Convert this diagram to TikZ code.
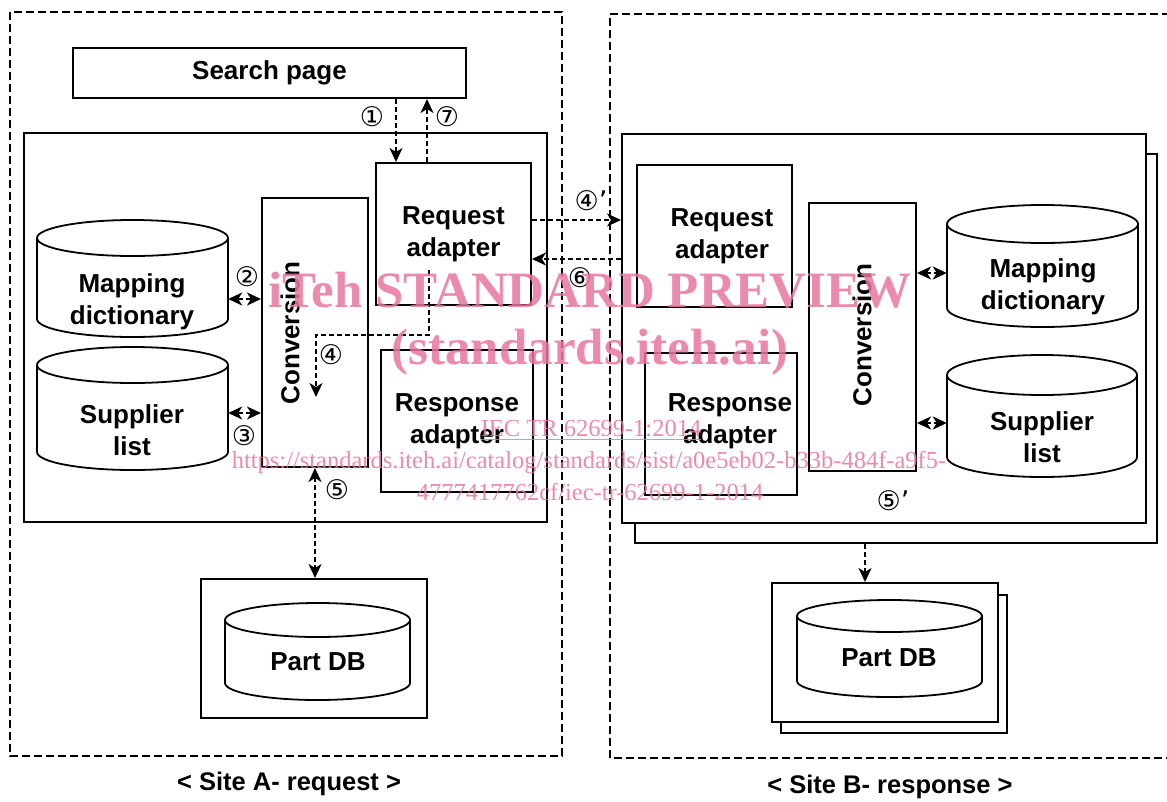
\documentclass[tikz,border=0pt]{standalone}
\usepackage{fontspec}
\setmainfont{Liberation Sans}
\newfontfamily\circfont{DejaVu Sans}
\newfontfamily\wmfont{Liberation Serif}
\usetikzlibrary{arrows.meta,calc}
\definecolor{wmpink}{RGB}{232,118,158}

% rectangle node given by its corners: name, x1, y1, x2, y2, text
\newcommand\boxnode[6]{%
  \node[box, minimum width={#4-#2}, minimum height={#5-#3}] (#1)
    at ({(#2+#4)/2},{(#3+#5)/2}) {#6};}
% drum shaped store: name, x1, ytop, x2, ybot, vertical radius of the rims
\newcommand\drum[6]{%
  \node[inner sep=0pt, minimum width={#4-#2}, minimum height={#5-#3}] (#1)
    at ({(#2+#4)/2},{(#3+#5)/2}) {};
  \draw[drumline, fill=white] (#2,{#3+#6}) -- (#2,{#5-#6})
    arc[start angle=180, end angle=0, x radius={(#4-#2)/2}, y radius=#6]
    -- (#4,{#3+#6});
  \draw[drumline] ({(#2+#4)/2},{#3+#6}) ellipse [x radius={(#4-#2)/2}, y radius=#6];}

\begin{document}
\begin{tikzpicture}[x=1pt, y=-1pt,
  box/.style={draw, line width=2pt, fill=white, inner sep=0pt, align=center,
    font=\bfseries\fontsize{26}{32}\selectfont},
  drumline/.style={line width=1.8pt},
  lbl/.style={align=center, inner sep=0pt, font=\bfseries\fontsize{26}{32}\selectfont},
  sitebox/.style={line width=2pt, dash pattern=on 8pt off 4pt},
  tip/.tip={Stealth[length=14pt, width=13pt, inset=4pt]},
  arr/.style={line width=1.8pt, dash pattern=on 5pt off 3pt, -tip},
  dbl/.style={line width=1.8pt, dash pattern=on 5pt off 3pt, tip-tip},
  num/.style={inner sep=0pt, font=\circfont\fontsize{27}{27}\selectfont},
  sitelbl/.style={inner sep=0pt, font=\bfseries\fontsize{25.5}{26}\selectfont},
  wm/.style={inner sep=0pt, text=wmpink, text opacity=0.85, align=center},
  wmbig/.style={wm, font=\wmfont\bfseries\fontsize{51}{51}\selectfont},
  wmsmall/.style={wm, font=\wmfont\fontsize{24.5}{25}\selectfont}
]
\useasboundingbox (0,0) rectangle (1167,801);

% ---------- site frames ----------
\draw[sitebox] (10,12) rectangle (562,756);
\draw[sitebox] (1170,14) -- (610,14) -- (610,758) -- (1170,758);

% ---------- site A ----------
\boxnode{search}{73}{48}{466}{98}{Search page}
\boxnode{hostA}{24}{133}{547}{522}{}
\boxnode{reqA}{376}{163}{531}{305}{Request\\adapter}
\boxnode{convA}{262}{198}{368}{467}{}
\node[lbl, rotate=90] (convAtxt) at (290,333) {Conversion};
\boxnode{respA}{381}{350}{533}{492}{Response\\adapter}
\drum{mapA}{37}{220}{228}{337}{18}
\node[lbl] (mapAtxt) at (132,302) {Mapping\\dictionary};
\drum{supA}{37}{347}{228}{470}{18}
\node[lbl] (supAtxt) at (132,430) {Supplier\\list};
\boxnode{dbboxA}{201}{579}{427}{718}{}
\drum{dbA}{225}{603}{410}{700}{17}
\node[lbl] (dbAtxt) at (318,662) {Part DB};

% ---------- site B ----------
\boxnode{hostBback}{635}{154}{1157}{543}{}
\boxnode{hostB}{622}{134}{1146}{523}{}
\boxnode{reqB}{637}{165}{792}{307}{}
\node[lbl] (reqBtxt) at (722,236) {Request\\adapter};
\boxnode{convB}{809}{203}{916}{471}{}
\node[lbl, rotate=90] (convBtxt) at (862,335) {Conversion};
\boxnode{respB}{645}{353}{797}{495}{}
\node[lbl] (respBtxt) at (730,421) {Response\\adapter};
\drum{mapB}{947}{205}{1138}{327}{19}
\node[lbl] (mapBtxt) at (1043,287) {Mapping\\dictionary};
\drum{supB}{947}{355}{1137}{477}{20}
\node[lbl] (supBtxt) at (1042,437) {Supplier\\list};
\boxnode{dbboxBback}{781}{595}{1007}{733}{}
\boxnode{dbboxB}{772}{583}{998}{722}{}
\drum{dbB}{797}{600}{982}{697}{16}
\node[lbl] (dbBtxt) at (889,658) {Part DB};

% ---------- message flow ----------
\draw[arr] (396,0 |- search.south) -- (396,0 |- reqA.north);
\draw[arr] (427,0 |- reqA.north) -- (427,0 |- search.south);
\coordinate (d4start) at (429,270);
\coordinate (d4end) at (316,397);
\draw[arr] (d4start) -- (429,335) -- (316,335) -- (d4end);
\draw[arr] (reqA.east |- 0,220) -- (hostB.west |- 0,220);
\draw[arr] (hostB.west |- 0,259) -- (reqA.east |- 0,259);
\draw[dbl] (mapA.east |- 0,299) -- (convA.west |- 0,299);
\draw[dbl] (supA.east |- 0,413) -- (convA.west |- 0,413);
\draw[dbl] (convA.south -| 315,0) -- (dbboxA.north -| 315,0);
\draw[dbl] (convB.east |- 0,273) -- (mapB.west |- 0,273);
\draw[dbl] (convB.east |- 0,423) -- (supB.west |- 0,423);
\draw[arr] (hostBback.south -| 865,0) -- (dbboxB.north -| 865,0);

% ---------- step numbers ----------
\node[num] (n1) at (372,117) {①};
\node[num] (n7) at (447,117) {⑦};
\node[num] (n2) at (247,277) {②};
\node[num] (n3) at (244,436) {③};
\node[num] (n4) at (331,355) {④};
\node[num] (n5) at (337,490) {⑤};
\node[num] (n4p) at (591,201) {④’};
\node[num] (n6) at (580,278) {⑥};
\node[num] (n5p) at (893,501) {⑤’};

% ---------- captions ----------
\node[sitelbl] (capA) at (289,784) {< Site A- request >};
\node[sitelbl] (capB) at (890,787) {< Site B- response >};

% ---------- overprinted notice ----------
\node[wmbig] (wm1) at (590,290) {iTeh STANDARD PREVIEW};
\node[wmbig] (wm2) at (590,352) {(standards.iteh.ai)};
\node[wmsmall] (wm3) at (591,430) {\underline{IEC TR 62699-1:2014}};
\node[wmsmall] (wm4) at (589,463) {https://standards.iteh.ai/catalog/standards/sist/a0e5eb02-b33b-484f-a9f5-};
\node[wmsmall] (wm5) at (590,492) {4777417762cf/iec-tr-62699-1-2014};
\end{tikzpicture}
\end{document}
